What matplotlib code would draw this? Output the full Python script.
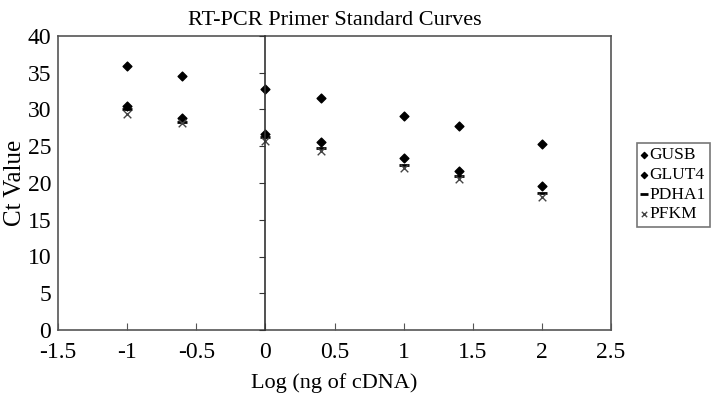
import matplotlib.pyplot as plt

log_ng = [-1, -0.6, 0, 0.4, 1, 1.4, 2]
gusb = [35.9, 34.6, 32.8, 31.6, 29.1, 27.7, 25.3]
glut4 = [30.5, 28.8, 26.6, 25.6, 23.4, 21.7, 19.6]
pdha1 = [30.0, 28.3, 26.2, 24.7, 22.5, 21.0, 18.6]
pfkm = [29.4, 28.1, 25.7, 24.3, 22.0, 20.5, 18.1]

plt.rcParams['font.family'] = ['Liberation Serif', 'DejaVu Serif']

fig = plt.figure(figsize=(7.2, 3.94), dpi=100)
ax = fig.add_axes([58 / 720, 1 - 330 / 394, 553 / 720, 294 / 394])

ax.scatter(log_ng, gusb, marker='D', s=20, color='black', label='GUSB', zorder=3)
ax.scatter(log_ng, glut4, marker='D', s=20, color='black', label='GLUT4', zorder=3)
ax.scatter(log_ng, pdha1, marker='_', s=60, linewidths=2, color='black', label='PDHA1', zorder=3)
ax.scatter(log_ng, pfkm, marker='x', s=30, linewidths=1, color='#444444', label='PFKM', zorder=3)

ax.set_xlim(-1.5, 2.5)
ax.set_ylim(0, 40)
ax.set_xticks([-1.5, -1, -0.5, 0, 0.5, 1, 1.5, 2, 2.5])
ax.set_xticklabels(['-1.5', '-1', '-0.5', '0', '0.5', '1', '1.5', '2', '2.5'])
ax.set_yticks(range(0, 41, 5))
ax.tick_params(axis='x', direction='in', length=5, color='#555555', labelsize=17, pad=9)
ax.tick_params(axis='y', length=0, labelsize=17, pad=5)
for sp in ax.spines.values():
    sp.set_color('#555555')
    sp.set_linewidth(1.2)

# vertical axis crossing at x = 0 with its own ticks
ax2 = ax.twinx()
ax2.set_ylim(0, 40)
ax2.set_yticks(range(0, 41, 5))
ax2.spines['right'].set_position(('data', 0))
ax2.spines['right'].set_color('#333333')
ax2.spines['right'].set_linewidth(1.2)
for s in ['left', 'top', 'bottom']:
    ax2.spines[s].set_visible(False)
ax2.tick_params(axis='y', direction='in', length=4, color='#333333', labelright=False)

ax.set_title('RT-PCR Primer Standard Curves', fontsize=16, pad=8)
ax.set_xlabel('Log (ng of cDNA)', fontsize=16, labelpad=7)
ax.set_ylabel('Ct Value', fontsize=18, labelpad=1)

leg = ax.legend(loc='upper left', bbox_to_anchor=(637 / 720, 1 - 143 / 394),
                bbox_transform=fig.transFigure, fontsize=12.5, frameon=True,
                fancybox=False, edgecolor='#555555', handlelength=0.3,
                handletextpad=0.15, borderpad=0.25, labelspacing=0.2,
                borderaxespad=0, markerscale=0.7)
leg.get_frame().set_linewidth(1.2)

fig.savefig('out.png', dpi=100)
